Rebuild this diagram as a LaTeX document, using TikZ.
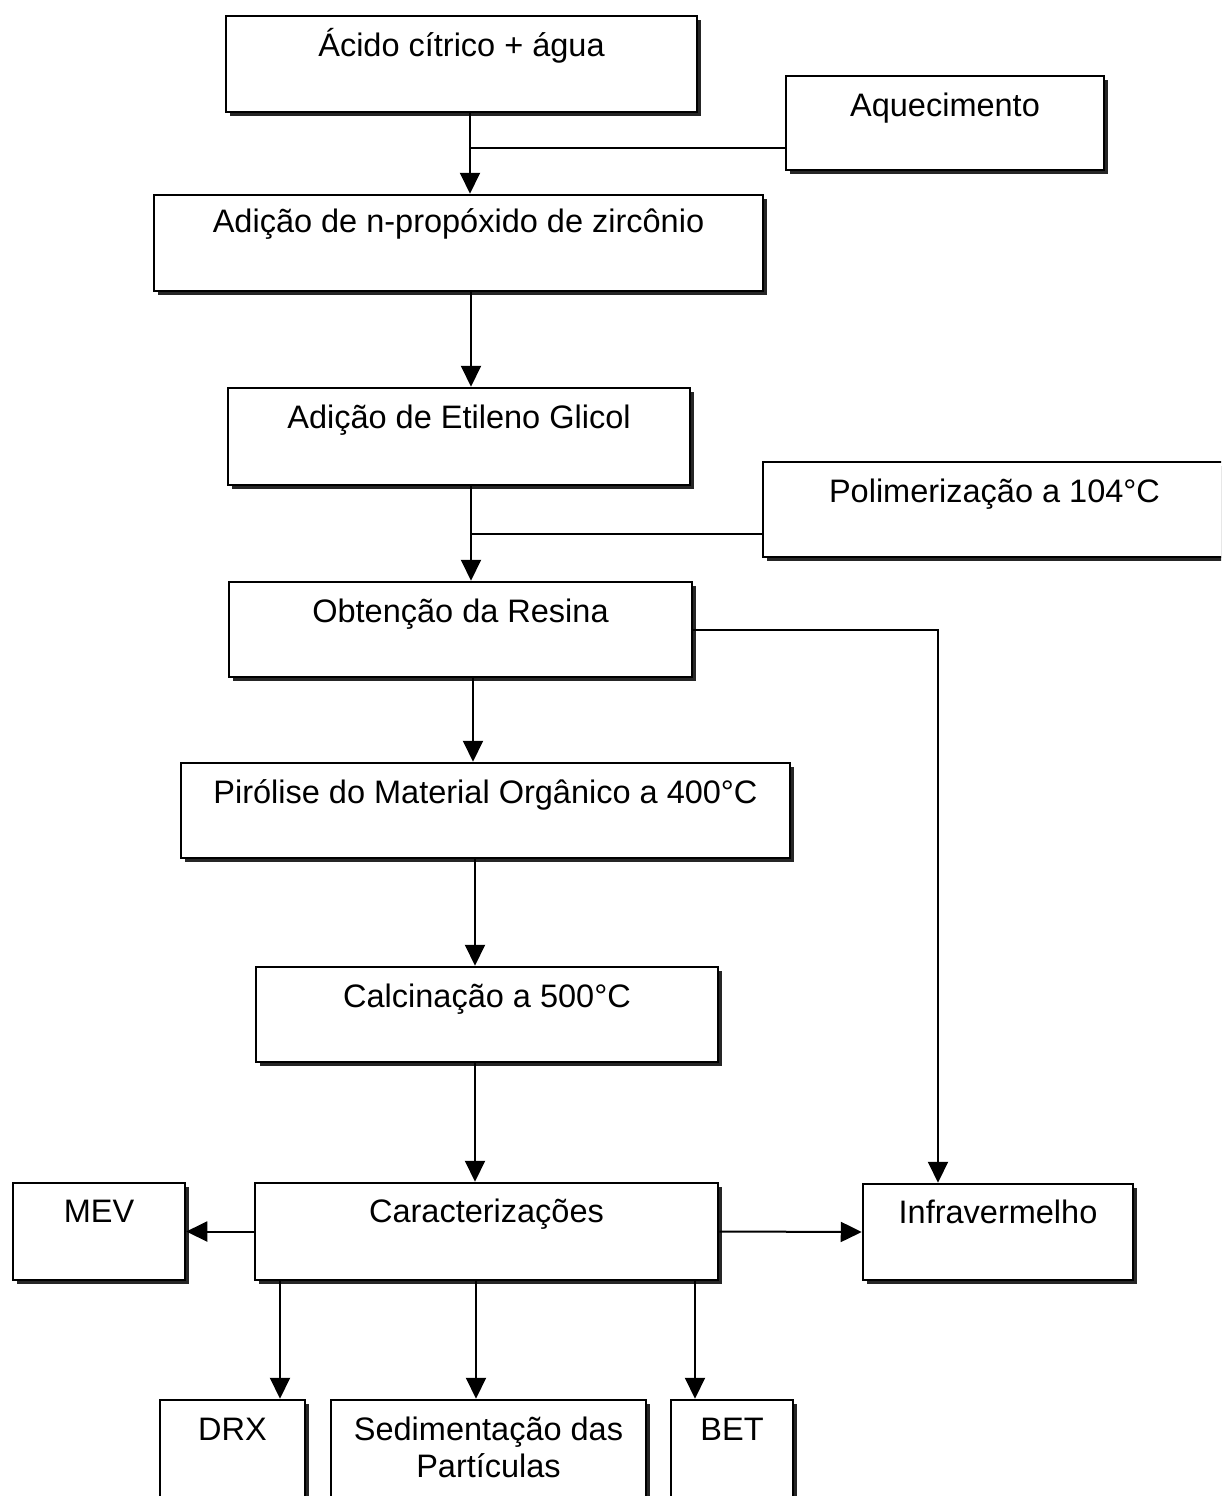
\documentclass[tikz,border=0pt]{standalone}
\usepackage{fontspec}
\setmainfont{Liberation Sans}
\usetikzlibrary{arrows.meta,calc,shadows}
\begin{document}
\begin{tikzpicture}[x=1pt,y=-1pt,
  box/.style={draw=black,line width=2.5pt,fill=white,rectangle,inner sep=0pt,
    drop shadow={shadow xshift=4pt,shadow yshift=-4pt,fill=black!85,opacity=1}},
  lbl/.style={anchor=base,inner sep=0pt,font=\fontsize{32.5}{37}\selectfont},
  conn/.style={line width=2pt,draw=black},
  arr/.style={conn,-{Triangle[width=20pt,length=21pt]}}]
\useasboundingbox (0,0) rectangle (1221,1496);
\clip (0,0) rectangle (1221,1496);
\fill[white] (0,0) rectangle (1221,1496);
% boxes: centre = ((l+r)/2,(t+b)/2), size (r-l)x(b-t)
\node[box,minimum width=471pt,minimum height=96pt] (a1) at (461.5,64) {};
\node[box,minimum width=318pt,minimum height=94pt] (aq) at (945,123) {};
\node[box,minimum width=609pt,minimum height=96pt] (a3) at (458.5,243) {};
\node[box,minimum width=462pt,minimum height=97pt] (a4) at (459,436.5) {};
\node[box,minimum width=467pt,minimum height=95pt] (pol) at (996.5,509.5) {};
\node[box,minimum width=463pt,minimum height=95pt] (res) at (460.5,629.5) {};
\node[box,minimum width=609pt,minimum height=95pt] (pir) at (485.5,810.5) {};
\node[box,minimum width=462pt,minimum height=95pt] (cal) at (487,1014.5) {};
\node[box,minimum width=463pt,minimum height=97pt] (car) at (486.5,1231.5) {};
\node[box,minimum width=172pt,minimum height=97pt] (mev) at (99,1231.5) {};
\node[box,minimum width=270pt,minimum height=96pt] (inf) at (998,1232) {};
\node[box,minimum width=145pt,minimum height=110pt] (drx) at (232.5,1455) {};
\node[box,minimum width=315pt,minimum height=110pt] (sed) at (488.5,1455) {};
\node[box,minimum width=122pt,minimum height=110pt] (bet) at (732,1455) {};
% texts
\node[lbl] (ta1) at ($(a1.north)+(0,42)$) {Ácido cítrico + água};
\node[lbl] (taq) at ($(aq.north)+(0,42)$) {Aquecimento};
\node[lbl] (ta3) at ($(a3.north)+(0,39)$) {Adição de n-propóxido de zircônio};
\node[lbl] (ta4) at ($(a4.north)+(0,42)$) {Adição de Etileno Glicol};
\node[lbl] (tpol) at ($(pol.north)+(-2,42)$) {Polimerização a 104°C};
\node[lbl] (tres) at ($(res.north)+(0,42)$) {Obtenção da Resina};
\node[lbl] (tpir) at ($(pir.north)+(0,42)$) {Pirólise do Material Orgânico a 400°C};
\node[lbl] (tcal) at ($(cal.north)+(0,42)$) {Calcinação a 500°C};
\node[lbl] (tcar) at ($(car.north)+(0,41)$) {Caracterizações};
\node[lbl] (tmev) at ($(mev.north)+(0,41)$) {MEV};
\node[lbl] (tinf) at ($(inf.north)+(0,41)$) {Infravermelho};
\node[lbl] (tdrx) at ($(drx.north)+(0,42)$) {DRX};
\node[lbl] (tsed1) at ($(sed.north)+(0,42)$) {Sedimentação das};
\node[lbl] (tsed2) at ($(sed.north)+(0,79)$) {Partículas};
\node[lbl] (tbet) at ($(bet.north)+(0,42)$) {BET};
% junction / column coordinates
\coordinate (x1) at (470,0);
\coordinate (j1) at (470,148);
\coordinate (x2) at (471,0);
\coordinate (j2) at (471,534);
\coordinate (x3) at (473,0);
\coordinate (x4) at (475,0);
\coordinate (xr) at (938,630);
\coordinate (xd) at (280,0);
\coordinate (xs) at (476,0);
\coordinate (xb) at (695,0);
% connectors
\draw[arr] (a1.south -| x1) -- (a3.north -| x1);
\draw[conn] (aq.west |- j1) -- (j1);
\draw[arr] (a3.south -| x2) -- (a4.north -| x2);
\draw[arr] (a4.south -| x2) -- (res.north -| x2);
\draw[conn] (pol.west |- j2) -- (j2);
\draw[arr] (res.east |- xr) -- (xr) -- (inf.north -| xr);
\draw[arr] (res.south -| x3) -- (pir.north -| x3);
\draw[arr] (pir.south -| x4) -- (cal.north -| x4);
\draw[arr] (cal.south -| x4) -- (car.north -| x4);
\draw[arr] (car.west) -- (mev.east);
\draw[arr] (car.east) -- (inf.west);
\draw[arr] (car.south -| xd) -- (drx.north -| xd);
\draw[arr] (car.south -| xs) -- (sed.north -| xs);
\draw[arr] (car.south -| xb) -- (bet.north -| xb);
\end{tikzpicture}
\end{document}
